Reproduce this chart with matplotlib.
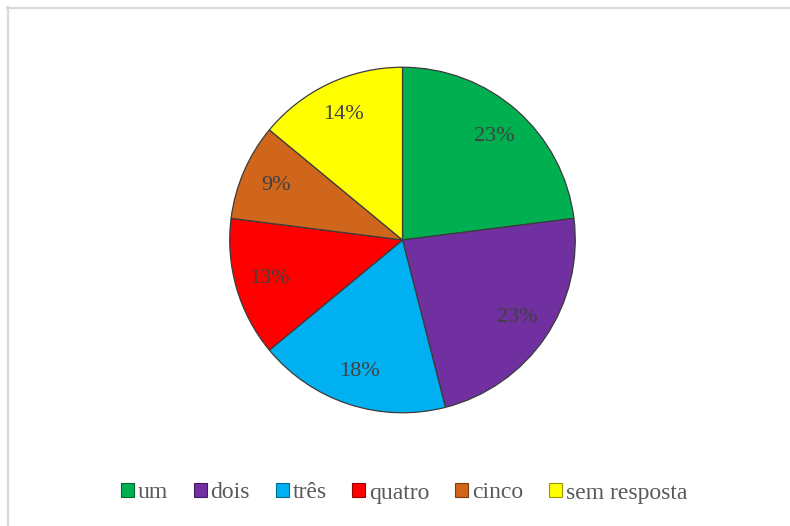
import matplotlib
matplotlib.use("Agg")
import matplotlib.pyplot as plt
from matplotlib.patches import Patch
from matplotlib.lines import Line2D
from matplotlib.colors import to_rgb

categories = ["um", "dois", "três", "quatro", "cinco", "sem resposta"]
shares = [23, 23, 18, 13, 9, 14]
colors = ["#00B050", "#7030A0", "#00B0F0", "#FF0000", "#D0651C", "#FFFF00"]

plt.rcParams["font.family"] = ["Liberation Serif", "DejaVu Serif"]


def darker(c, f=0.6):
    r, g, b = to_rgb(c)
    return (r * f, g * f, b * f)


W, H = 790, 526
fig = plt.figure(figsize=(W / 100, H / 100), dpi=100)
fig.patch.set_facecolor("white")

# chart-area frame (top and left edges visible)
fig.add_artist(Line2D([7 / W, 1.0], [1 - 7.5 / H, 1 - 7.5 / H], color="#d9d9d9", lw=1.6))
fig.add_artist(Line2D([7.5 / W, 7.5 / W], [0.0, 1 - 7 / H], color="#d9d9d9", lw=1.6))

cx, cy, r = 402.5, 240, 174.5
ax = fig.add_axes([(cx - r) / W, (H - cy - r) / H, 2 * r / W, 2 * r / H])
wedges, texts = ax.pie(
    shares,
    colors=colors,
    startangle=90,
    counterclock=False,
    radius=1.0,
    labels=[f"{v}%" for v in shares],
    labeldistance=0.8,
    wedgeprops=dict(linewidth=0.9, edgecolor="#3c3c3c"),
    textprops=dict(fontsize=16, color="#404040"),
)
for t in texts:
    t.set_horizontalalignment("center")
    t.set_verticalalignment("center")
ax.set_xlim(-1.01, 1.01)
ax.set_ylim(-1.01, 1.01)
ax.set_aspect("equal")
ax.axis("off")

handles = [Patch(facecolor=c, edgecolor=darker(c), linewidth=0.8) for c in colors]
fig.legend(
    handles,
    categories,
    loc="center",
    bbox_to_anchor=(404 / W, 1 - 493 / H),
    ncol=6,
    frameon=False,
    fontsize=17,
    handlelength=0.55,
    handleheight=0.55,
    handletextpad=0.15,
    columnspacing=1.1,
    labelcolor="#595959",
)

fig.savefig("out.png", dpi=100)
